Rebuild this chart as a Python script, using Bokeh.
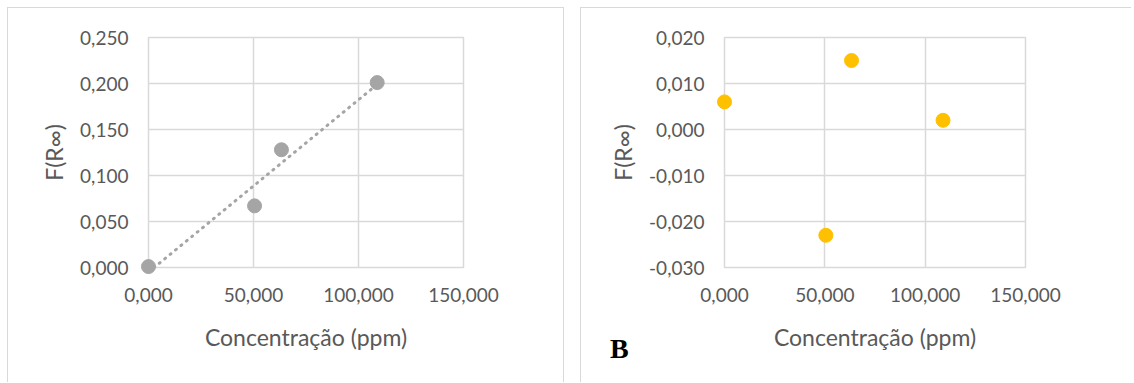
import numpy as np
from bokeh.plotting import figure
from bokeh.layouts import row
from bokeh.models import Range1d, FixedTicker, CustomJSTickFormatter
from bokeh.core.properties import value
from bokeh.embed import file_html
from bokeh.resources import INLINE

# ---- data ----
conc = [0.0, 50.5, 63.3, 108.9]            # Concentração (ppm)
f_r = [0.001, 0.067, 0.128, 0.201]          # F(R∞) panel A
residuals = [0.006, -0.023, 0.015, 0.002]   # F(R∞) panel B
x_ticks = [0, 50, 100, 150]
y_ticks_a = [0.0, 0.05, 0.10, 0.15, 0.20, 0.25]
y_ticks_b = [-0.03, -0.02, -0.01, 0.0, 0.01, 0.02]
x_title = "Concentração (ppm)"
y_title = "F(R∞)"
panel_tag = "B"

# linear trendline (least squares) from panel A data
slope, intercept = np.polyfit(conc, f_r, 1)
trend_x = [0.0, max(conc)]
trend_y = [intercept + slope * v for v in trend_x]

GRID = "#d9d9d9"
TXT = "#595959"
FONT = "Lato"
fmt = CustomJSTickFormatter(code="return tick.toFixed(3).replace('.', ',');")


def style(p, xt, yt):
    p.xaxis.ticker = FixedTicker(ticks=xt)
    p.yaxis.ticker = FixedTicker(ticks=yt)
    p.xgrid.ticker = FixedTicker(ticks=xt)
    p.ygrid.ticker = FixedTicker(ticks=yt)
    for ax in (p.xaxis[0], p.yaxis[0]):
        ax.formatter = fmt
        ax.axis_line_color = None
        ax.major_tick_line_color = None
        ax.minor_tick_line_color = None
        ax.major_tick_in = 0
        ax.major_tick_out = 0
        ax.minor_tick_in = 0
        ax.minor_tick_out = 0
        ax.major_label_text_font = FONT
        ax.major_label_text_font_size = "19px"
        ax.major_label_text_color = TXT
        ax.axis_label_text_font = FONT
        ax.axis_label_text_font_size = "23px"
        ax.axis_label_text_font_style = "normal"
        ax.axis_label_text_color = TXT
    p.xaxis.axis_label = x_title
    p.yaxis.axis_label = y_title
    p.xaxis.major_label_standoff = 20
    p.yaxis.major_label_standoff = 20
    p.xaxis.axis_label_standoff = 18
    p.yaxis.axis_label_standoff = 9
    p.xgrid.grid_line_color = GRID
    p.ygrid.grid_line_color = GRID
    p.xgrid.grid_line_width = 1.5
    p.ygrid.grid_line_width = 1.5
    p.outline_line_color = GRID
    p.outline_line_width = 1.5
    p.background_fill_color = "white"
    p.border_fill_color = "white"


border_css = {
    "border-top": "1px solid #d9d9d9",
    "border-left": "1px solid #d9d9d9",
}

pa = figure(width=557, height=375, output_backend="svg", toolbar_location=None,
            x_range=Range1d(0, 150), y_range=Range1d(0, 0.25),
            min_border_left=140, min_border_right=102, min_border_top=29, min_border_bottom=116,
            margin=(7, 0, 0, 7))
pa.styles = dict(border_css, **{"border-right": "1px solid #d9d9d9"})
style(pa, x_ticks, y_ticks_a)
pa.line(trend_x, trend_y, line_color="#a5a5a5", line_width=3, line_dash="1 6", line_cap="round")
pa.scatter(conc, f_r, size=14, fill_color="#a5a5a5", line_color="#a5a5a5", level="overlay")

pb = figure(width=551, height=375, output_backend="svg", toolbar_location=None,
            x_range=Range1d(0, 150), y_range=Range1d(-0.03, 0.02),
            min_border_left=143, min_border_right=107, min_border_top=29, min_border_bottom=116,
            margin=(7, 0, 0, 16))
pb.styles = border_css
style(pb, x_ticks, y_ticks_b)
pb.scatter(conc, residuals, size=14, fill_color="#ffc000", line_color="#ffc000", level="overlay")
pb.text(x=[-57], y=[-0.0475], text=[panel_tag], text_font=value("Liberation Serif"),
        text_font_style="bold", text_font_size="28px", text_color="black",
        text_baseline="middle", text_align="left", level="overlay")

layout = row(pa, pb)
open("out.html", "w").write(file_html(layout, INLINE))
